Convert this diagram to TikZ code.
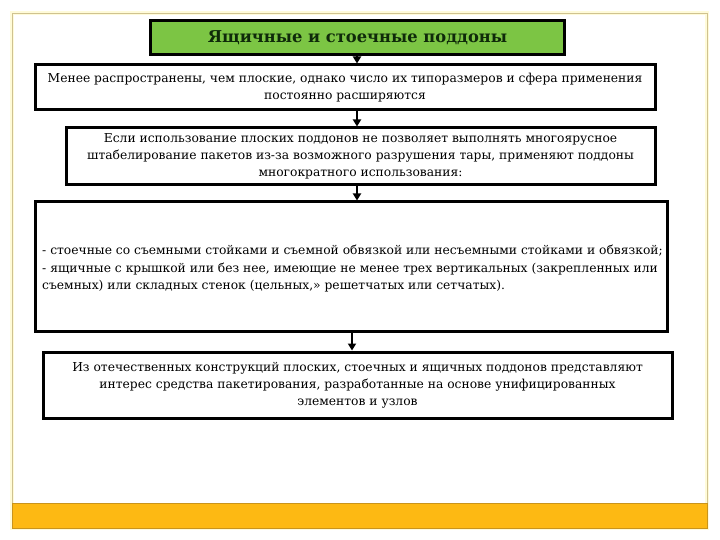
\documentclass[tikz,border=0pt]{standalone}
\usepackage{fontspec}
\setmainfont{DejaVu Serif}
\usetikzlibrary{arrows.meta}
\definecolor{frametan}{HTML}{CFC290}
\definecolor{frameglow}{HTML}{FFFBD9}
\definecolor{barorange}{HTML}{FDB913}
\definecolor{bardark}{HTML}{C9941C}
\definecolor{titlegreen}{HTML}{7CC544}
\definecolor{titletext}{HTML}{0F2A0A}
\tikzset{
  box/.style={draw=black, line width=3pt, fill=white, inner sep=2pt, font=\fontsize{12.3}{17}\selectfont},
  link/.style={line width=1.8pt, -{Triangle[length=7pt,width=8pt]}},
}
\begin{document}
\begin{tikzpicture}[x=1pt,y=-1pt]
\useasboundingbox (0,0) rectangle (720,540);
\fill[white] (0,0) rectangle (720,540);
% outer frame
\draw[frameglow, line width=4pt] (12,13) rectangle (707,528);
\draw[frametan, line width=0.8pt] (12,13) rectangle (707,528);
\filldraw[fill=barorange, draw=bardark, line width=0.6pt] (12,503) rectangle (707,528);
% title
\node[draw=black, line width=3.2pt, fill=titlegreen, minimum width=414pt, minimum height=34pt, inner sep=0pt, font=\fontsize{16.3}{18}\selectfont\bfseries, text=titletext] (t) at (357.5,37.5) {Ящичные и стоечные поддоны};
% box 2
\node[box, minimum width=620pt, minimum height=45pt, align=center] (b2) at (345,87.5)
  {Менее распространены, чем плоские, однако число их типоразмеров и сфера применения\\постоянно расширяются};
% box 3
\node[box, minimum width=589pt, minimum height=57pt, align=center] (b3) at (360.5,156.5)
  {Если использование плоских поддонов не позволяет выполнять многоярусное\\штабелирование пакетов из-за возможного разрушения тары, применяют поддоны\\многократного использования:};
% box 4
\node[box, minimum width=632pt, minimum height=129pt] (b4) at (351,266.5) {};
\node[anchor=west, align=left, inner sep=0pt, font=\fontsize{12.3}{17.5}\selectfont] (b4t) at (42,269)
  {- стоечные со съемными стойками и съемной обвязкой или несъемными стойками и обвязкой;\\- ящичные с крышкой или без нее, имеющие не менее трех вертикальных (закрепленных или\\съемных) или складных стенок (цельных,» решетчатых или сетчатых).};
% box 5
\node[box, minimum width=629pt, minimum height=66pt, align=center] (b5) at (357.5,385)
  {Из отечественных конструкций плоских, стоечных и ящичных поддонов представляют\\интерес средства пакетирования, разработанные на основе унифицированных\\элементов и узлов};
% connectors
\draw[link] (t.south -| 357,0) -- (b2.north -| 357,0);
\draw[link] (b2.south -| 357,0) -- (b3.north -| 357,0);
\draw[link] (b3.south -| 357,0) -- (b4.north -| 357,0);
\draw[link] (b4.south -| 352,0) -- (b5.north -| 352,0);
\end{tikzpicture}
\end{document}
